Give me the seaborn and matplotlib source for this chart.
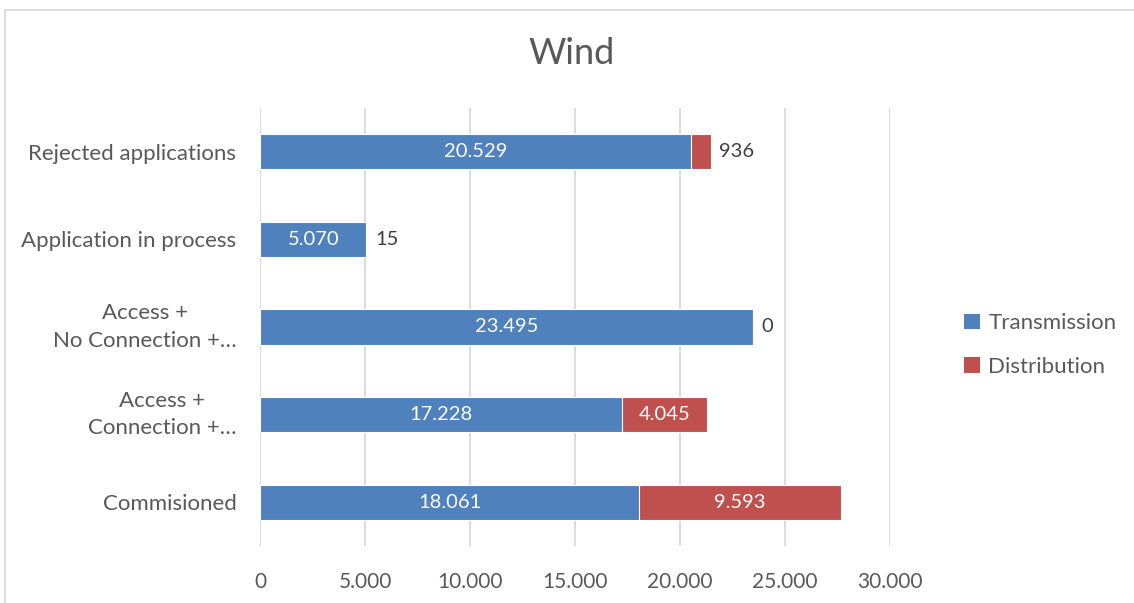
import matplotlib
matplotlib.use("Agg")
import matplotlib.pyplot as plt
from matplotlib.patches import Rectangle, Patch
import seaborn as sns
import pandas as pd

categories = [
    "Rejected applications",
    "Application in process",
    "Access +\nNo Connection +…",
    "Access +\nConnection +…",
    "Commisioned",
]
transmission = [20529, 5070, 23495, 17228, 18061]
distribution = [936, 15, 0, 4045, 9593]
x_ticks = [0, 5000, 10000, 15000, 20000, 25000, 30000]

BLUE = "#4F81BD"
RED = "#C0504D"
TEXT = "#595959"
GRID = "#D9D9D9"

sns.set_theme(style="white")
plt.rcParams["font.family"] = ["Lato", "DejaVu Sans"]

df = pd.DataFrame({
    "category": categories,
    "Transmission": transmission,
    "Distribution": distribution,
})
df["total"] = df["Transmission"] + df["Distribution"]

fig = plt.figure(figsize=(11.34, 6.03), dpi=100)
ax = fig.add_axes([260 / 1134, 1 - 546 / 603, 630 / 1134, 438 / 603])

# stacked bars: the total drawn first in red, transmission on top in blue
sns.barplot(data=df, y="category", x="total", color=RED, width=0.4,
            edgecolor="white", linewidth=0.8, saturation=1, ax=ax, zorder=3)
sns.barplot(data=df, y="category", x="Transmission", color=BLUE, width=0.4,
            edgecolor="white", linewidth=0.8, saturation=1, ax=ax, zorder=3)

def fmt(v):
    return f"{v:,}".replace(",", ".")

NUM_FS = 14.5
for i, row in df.iterrows():
    t, d = row["Transmission"], row["Distribution"]
    ax.text(t / 2, i, fmt(t), ha="center", va="center", color="white",
            fontsize=NUM_FS, zorder=5)
    if d >= 2000:
        ax.text(t + d / 2, i, fmt(d), ha="center", va="center", color="white",
                fontsize=NUM_FS, zorder=5)
    else:
        ax.text(t + d + 400, i, fmt(d), ha="left", va="center", color="#404040",
                fontsize=NUM_FS, zorder=5)

ax.set_xlim(0, 30000)
ax.set_ylim(4.5, -0.5)
ax.set_xticks(x_ticks)
ax.set_xticklabels([fmt(v) for v in x_ticks])
ax.grid(axis="x", color=GRID, linewidth=1.3, zorder=0)
ax.set_axisbelow(True)
for s in ax.spines.values():
    s.set_visible(False)
ax.set_xlabel("")
ax.set_ylabel("")
ax.tick_params(axis="both", length=0, colors=TEXT)
ax.tick_params(axis="x", pad=19, labelsize=15)
ax.tick_params(axis="y", pad=17, labelsize=16)
for lbl in ax.get_yticklabels():
    if "\n" in lbl.get_text():
        lbl.set_multialignment("center")
        lbl.set_linespacing(1.45)
        lbl.set_verticalalignment("center")

fig.text(572 / 1134, 1 - 54 / 603, "Wind", ha="center", va="center",
         fontsize=26, color=TEXT)

handles = [Patch(facecolor=BLUE, edgecolor="none"), Patch(facecolor=RED, edgecolor="none")]
fig.legend(handles, ["Transmission", "Distribution"], loc="center left",
           bbox_to_anchor=(944 / 1134, 1 - 345 / 603), frameon=False,
           handlelength=0.7, handleheight=0.7, handletextpad=0.4,
           labelspacing=1.05, fontsize=16, labelcolor=TEXT)

# chart area border
fig.patches.append(Rectangle((5 / 1134, -0.05), 1.2, 1 - 10 / 603 + 0.05,
                             transform=fig.transFigure, fill=False,
                             edgecolor=GRID, linewidth=1.3))

fig.savefig("out.png", dpi=100, facecolor="white")
